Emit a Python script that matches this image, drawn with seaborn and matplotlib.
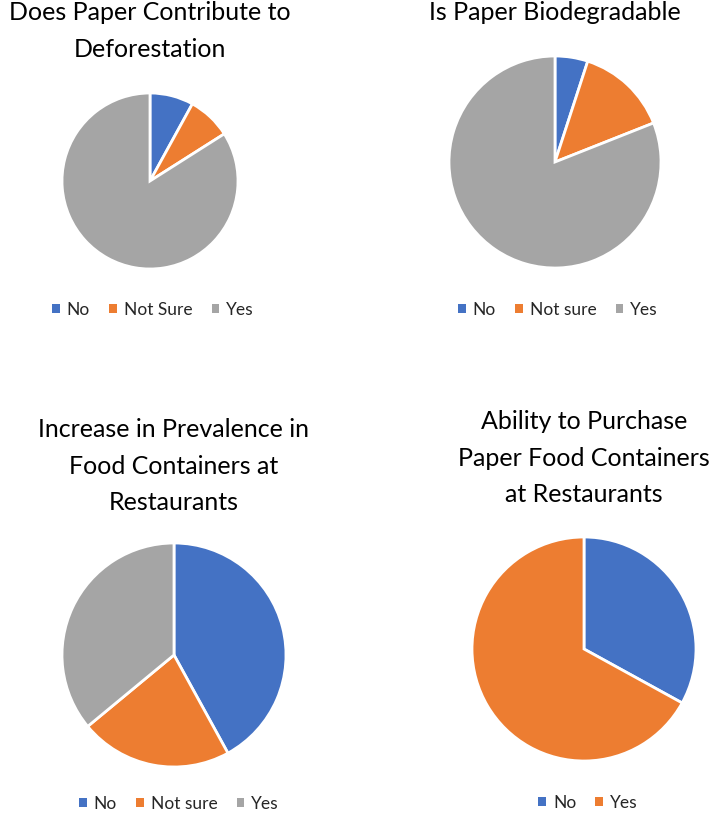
import matplotlib
matplotlib.use("Agg")
import matplotlib.pyplot as plt
import seaborn as sns
from matplotlib.patches import Patch

sns.set_theme(style="white")
plt.rcParams["font.family"] = ["Lato", "DejaVu Sans"]

# survey answers (percent)
deforest_labels = ["No", "Not Sure", "Yes"]
deforest_vals = [8, 8, 84]

biodeg_labels = ["No", "Not sure", "Yes"]
biodeg_vals = [5, 14, 81]

prevalence_labels = ["No", "Not sure", "Yes"]
prevalence_vals = [42, 22, 36]

purchase_labels = ["No", "Yes"]
purchase_vals = [33, 67]

office = sns.color_palette(["#4472C4", "#ED7D31", "#A5A5A5"])

W, H = 720, 813
fig = plt.figure(figsize=(W / 100, H / 100), dpi=100)


def pie_panel(vals, labels, cx, cy, r, title, title_y, legend_x, legend_y):
    # square axes so that the pie radius is r pixels
    ax = fig.add_axes([(cx - r) / W, 1 - (cy + r) / H, 2 * r / W, 2 * r / H])
    cols = office[:len(vals)]
    ax.pie(vals, colors=cols, startangle=90, counterclock=False, radius=1,
           wedgeprops={"edgecolor": "white", "linewidth": 2})
    ax.set_xlim(-1, 1)
    ax.set_ylim(-1, 1)
    ax.set_aspect("equal")
    ax.axis("off")
    fig.text(cx / W, 1 - title_y / H, title, ha="center", va="top",
             fontsize=18, color="#000000", linespacing=1.72)
    handles = [Patch(facecolor=c, edgecolor="none") for c in cols]
    fig.legend(handles, labels, loc="center", ncol=len(labels),
               bbox_to_anchor=(legend_x / W, 1 - legend_y / H),
               frameon=False, fontsize=12.5, handlelength=0.45, handleheight=0.45,
               handletextpad=0.4, columnspacing=1.1, labelcolor="#262626")


pie_panel(deforest_vals, deforest_labels, 150, 181, 88,
          "Does Paper Contribute to\nDeforestation", 1, 153, 310)
pie_panel(biodeg_vals, biodeg_labels, 555, 162, 106,
          "Is Paper Biodegradable", 1, 558, 310)
pie_panel(prevalence_vals, prevalence_labels, 174, 655, 112,
          "Increase in Prevalence in\nFood Containers at\nRestaurants", 418, 179, 804)
pie_panel(purchase_vals, purchase_labels, 584, 649, 112,
          "Ability to Purchase\nPaper Food Containers\nat Restaurants", 410, 588, 803)

plt.savefig("out.png", dpi=100)
plt.close()
